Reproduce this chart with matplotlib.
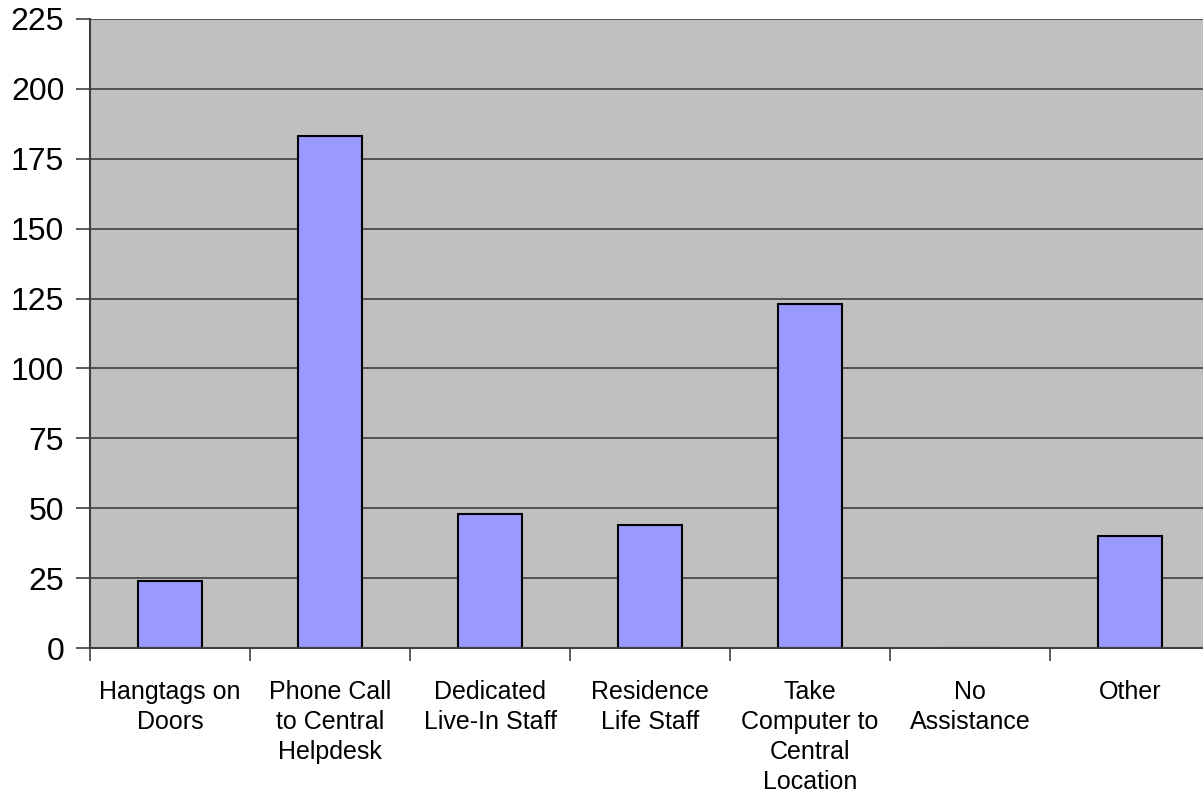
import matplotlib.pyplot as plt
import numpy as np

plt.rcParams['font.family'] = ['Liberation Sans', 'DejaVu Sans']

# categories and counts
categories = [
    "Hangtags on\nDoors",
    "Phone Call\nto Central\nHelpdesk",
    "Dedicated\nLive-In Staff",
    "Residence\nLife Staff",
    "Take\nComputer to\nCentral\nLocation",
    "No\nAssistance",
    "Other",
]
counts = [24, 183, 48, 44, 123, 0, 40]
y_ticks = [0, 25, 50, 75, 100, 125, 150, 175, 200, 225]

fig = plt.figure(figsize=(12.03, 7.97), dpi=100)
ax = fig.add_axes([90 / 1203, 1 - 648 / 797, 1120 / 1203, 629 / 797])
ax.set_facecolor("#C0C0C0")

x = np.arange(len(categories))
ax.bar(x, counts, width=0.4, color="#9999FF", edgecolor="black", linewidth=1.5, zorder=2)

ax.set_xlim(-0.5, len(categories) - 0.5)
ax.set_ylim(0, 225)
ax.set_yticks(y_ticks)
ax.set_yticklabels([str(v) for v in y_ticks], fontsize=23)
ax.yaxis.grid(True, color="#3f3f3f", linewidth=1.2, zorder=1)
ax.set_axisbelow(True)

# ticks sit between categories, labels centered under bars
ax.set_xticks(np.arange(len(categories) + 1) - 0.5)
ax.set_xticklabels([])
ax.set_xticks(x, minor=True)
ax.set_xticklabels(categories, minor=True, fontsize=18, linespacing=1.32, va="top")
ax.tick_params(axis="x", which="minor", length=0, pad=23)
ax.tick_params(axis="x", which="major", length=9, width=1.2, color="#3f3f3f")
ax.tick_params(axis="y", length=10, width=1.2, color="#3f3f3f", pad=8.5)

for side in ["left", "bottom"]:
    ax.spines[side].set_color("#3f3f3f")
    ax.spines[side].set_linewidth(1.5)
    ax.spines[side].set_zorder(2.5)
ax.spines["top"].set_visible(False)
ax.spines["right"].set_visible(False)

fig.savefig("out.png", dpi=100)
